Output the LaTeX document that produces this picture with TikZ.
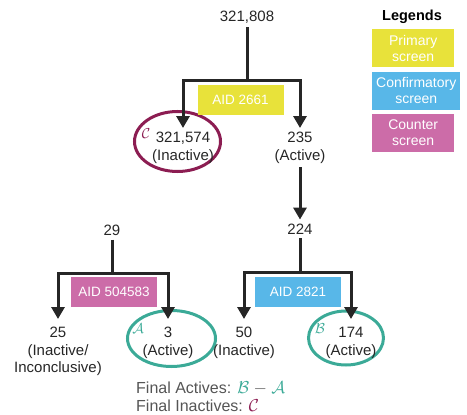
\documentclass[tikz,border=0pt]{standalone}
\usepackage{fontspec}
\setmainfont{Liberation Sans}
\usetikzlibrary{arrows.meta,positioning}
\definecolor{primyellow}{HTML}{E8E23A}
\definecolor{confblue}{HTML}{58B7E8}
\definecolor{counterpink}{HTML}{CC6CA8}
\definecolor{activeteal}{HTML}{3BAA97}
\definecolor{inactplum}{HTML}{8C1D52}
\definecolor{notegray}{HTML}{555555}
\tikzset{
  count/.style={align=center, inner sep=4pt, text=black!85, font=\fontsize{15}{17.5}\selectfont},
  leaf/.style={count, anchor=north, inner ysep=8pt},
  aidbox/.style={fill=#1, text=white, minimum width=86pt, minimum height=30pt, inner sep=0pt, font=\fontsize{13.5}{16}\selectfont},
  legbox/.style={fill=#1, text=white, align=center, anchor=north west, minimum width=82pt, minimum height=38pt, inner xsep=4pt, inner ysep=0pt, font=\fontsize{14}{16}\selectfont},
  stem/.style={line width=3pt, draw=black!85},
  branch/.style={stem, -{Triangle[width=13pt,length=12pt]}},
  ring/.style={draw=#1, line width=3pt},
  tag/.style={text=#1, inner sep=0pt, font=\fontsize{15}{17}\selectfont},
}

\begin{document}
\begin{tikzpicture}[x=1pt,y=-1pt]
	\useasboundingbox (0,0) rectangle (467,415);
	% rings
	\draw[ring=inactplum] (177.5,141.5) ellipse [x radius=43, y radius=30];
	\draw[ring=activeteal] (171.5,338.5) ellipse [x radius=44, y radius=28];
	\draw[ring=activeteal] (346,338) ellipse [x radius=37.5, y radius=27];
	% primary screen
	\node[count] (n0) at (247,17) {321,808};
	\coordinate (j0) at (247,80);
	\node[count, anchor=north] (n1) at (183,128) {321,574\\(Inactive)};
	\node[count, anchor=north] (n2) at (300,128) {235\\(Active)};
	\node[aidbox=primyellow] (aid1) at (240.5,99.5) {AID 2661};
	\draw[stem] (n0) -- (j0);
	\draw[branch] (j0) -| (n1);
	\draw[branch] (j0) -| (n2);
	% confirmatory screen
	\node[count] (n3) at (300,229) {224};
	\draw[branch] (n2) -- (n3);
	\coordinate (j1) at (300,272);
	\node[leaf] (n4) at (244,319) {50\\(Inactive)};
	\node[leaf] (n5) at (351,319) {174\\(Active)};
	\node[aidbox=confblue] (aid2) at (298,292) {AID 2821};
	\draw[stem] (n3) -- (j1);
	\draw[branch] (j1) -| (n4);
	\draw[branch] (j1) -| (n5);
	% counter screen
	\node[count] (n6) at (112,230) {29};
	\coordinate (j2) at (112,273);
	\node[leaf] (n7) at (58,319) {25\\(Inactive/\\Inconclusive)};
	\node[leaf] (n8) at (168,319) {3\\(Active)};
	\node[aidbox=counterpink] (aid3) at (114,292) {AID 504583};
	\draw[stem] (n6) -- (j2);
	\draw[branch] (j2) -| (n7);
	\draw[branch] (j2) -| (n8);
	% set labels
	\node[tag=inactplum] (tagc) at (146,134) {$\mathcal{C}$};
	\node[tag=activeteal] (taga) at (138,329) {$\mathcal{A}$};
	\node[tag=activeteal] (tagb) at (320,329) {$\mathcal{B}$};
	\node[anchor=north west, inner sep=0pt, align=left, text=notegray, font=\fontsize{16}{18}\selectfont] (note) at (136,381)
		{Final Actives: \textcolor{activeteal}{$\mathcal{B}$} $-$ \textcolor{activeteal}{$\mathcal{A}$}\\Final Inactives: \textcolor{inactplum}{$\mathcal{C}$}};
	% legend
	\node[font=\bfseries\fontsize{14.5}{17}\selectfont] (legend) at (412,17) {Legends};
	\node[legbox=primyellow] (lprim) at (372,29) {Primary\\screen};
	\node[below=4pt of lprim.south west, legbox=confblue] (lconf) {Confirmatory\\screen};
	\node[below=4pt of lconf.south west, legbox=counterpink] (lcount) {Counter\\screen};
\end{tikzpicture}
\end{document}
